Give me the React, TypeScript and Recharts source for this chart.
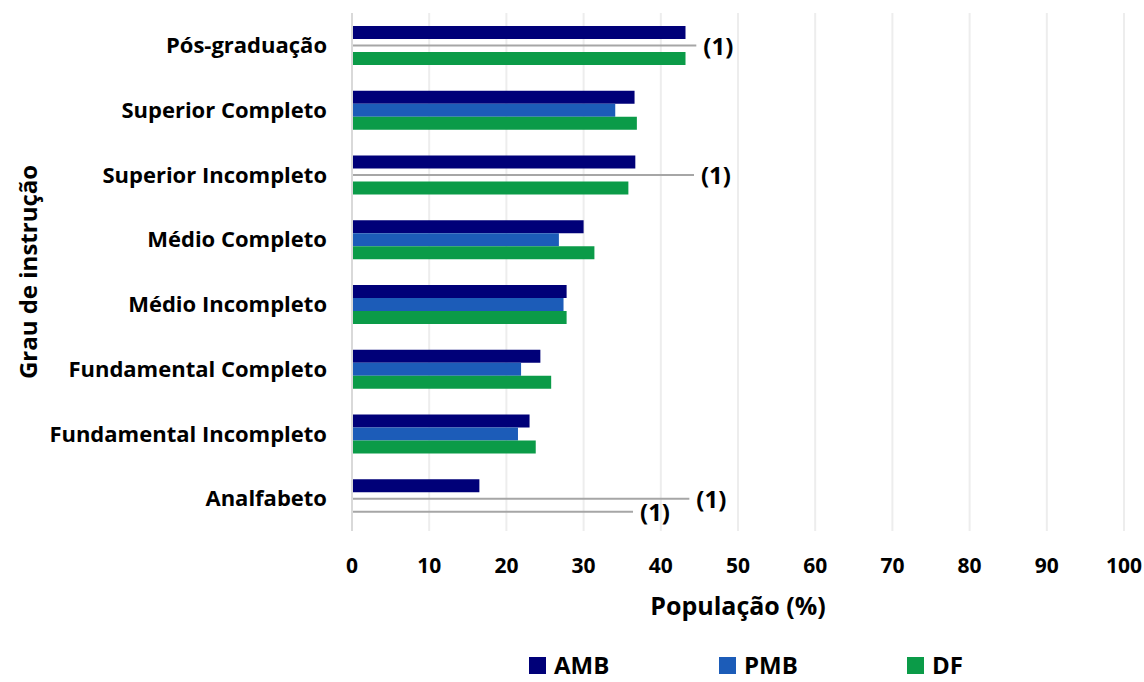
import React from 'react';
import { BarChart, Bar, XAxis, YAxis, CartesianGrid, Legend } from 'recharts';

// Grau de instrução x população (%) por região
const categories = [
  'Pós-graduação',
  'Superior Completo',
  'Superior Incompleto',
  'Médio Completo',
  'Médio Incompleto',
  'Fundamental Completo',
  'Fundamental Incompleto',
  'Analfabeto',
];
const ambValues = [43.2, 36.6, 36.7, 30.0, 27.8, 24.4, 23.0, 16.5];
const pmbValues = [null, 34.1, null, 26.8, 27.4, 21.9, 21.5, null];
const dfValues = [43.2, 36.9, 35.8, 31.4, 27.8, 25.8, 23.8, null];

// linhas de nota "(1)" onde não há dado
const pmbNoteLines = [44.6, null, 44.3, null, null, null, null, 43.7];
const dfNoteLines = [null, null, null, null, null, null, null, 36.4];
const noteLabel = '(1)';

const xTicks = [0, 10, 20, 30, 40, 50, 60, 70, 80, 90, 100];

const series = [
  { key: 'AMB', color: '#000078', itemWidth: 190 },
  { key: 'PMB', color: '#1C5CB8', itemWidth: 188 },
  { key: 'DF', color: '#0B9B48', itemWidth: 60 },
];

const FONT = '"Open Sans", sans-serif';

const data = categories.map((name, i) => ({
  name,
  AMB: ambValues[i],
  PMB: pmbValues[i],
  DF: dfValues[i],
  pmbNote: pmbNoteLines[i],
  dfNote: dfNoteLines[i],
}));

const NoteShape = (props: any) => {
  const { x, y, width, height } = props;
  if (!width || width <= 0) return null;
  const cy = y + height / 2;
  return (
    <g>
      <line x1={x} y1={cy} x2={x + width} y2={cy} stroke="#A6A6A6" strokeWidth={2} />
      <text
        x={x + width + 7}
        y={cy + 3}
        dominantBaseline="middle"
        fontFamily={FONT}
        fontWeight="bold"
        fontSize={24}
        fill="#000"
      >
        {noteLabel}
      </text>
    </g>
  );
};

const renderLegend = () => (
  <div style={{ display: 'flex', fontFamily: FONT, fontWeight: 'bold', fontSize: 24, lineHeight: '22px' }}>
    {series.map((s) => (
      <div key={s.key} style={{ display: 'flex', alignItems: 'center', width: s.itemWidth }}>
        <span style={{ width: 17, height: 17, background: s.color, display: 'inline-block', marginRight: 8 }} />
        <span style={{ color: '#000' }}>{s.key}</span>
      </div>
    ))}
  </div>
);

export default function App() {
  return (
    <div style={{ position: 'absolute', left: 0, top: 0, background: '#fff' }}>
      <BarChart
        width={1144}
        height={682}
        data={data}
        layout="vertical"
        margin={{ top: 13, right: 20, bottom: 0, left: 0 }}
        barSize={13}
        barGap={0}
      >
        <CartesianGrid horizontal={false} stroke="#EDEDED" strokeWidth={2} />
        <XAxis
          type="number"
          domain={[0, 100]}
          ticks={xTicks}
          axisLine={false}
          tickLine={false}
          tickSize={0}
          tickMargin={27}
          height={151}
          tick={{ fontFamily: FONT, fontWeight: 'bold', fontSize: 21, fill: '#000' }}
          label={{
            value: 'População (%)',
            position: 'insideBottom',
            offset: 67,
            style: { fontFamily: FONT, fontWeight: 'bold', fontSize: 25, fill: '#000' },
          }}
        />
        <YAxis
          type="category"
          dataKey="name"
          width={352}
          axisLine={{ stroke: '#D9D9D9', strokeWidth: 2 }}
          tickLine={false}
          tickSize={0}
          tickMargin={25}
          tick={{ fontFamily: FONT, fontWeight: 'bold', fontSize: 22, fill: '#000' }}
          label={{
            value: 'Grau de instrução',
            angle: -90,
            position: 'insideLeft',
            offset: 28,
            style: { textAnchor: 'middle', fontFamily: FONT, fontWeight: 'bold', fontSize: 24, fill: '#000' },
          }}
        />
        <Bar dataKey="AMB" stackId="amb" fill="#000078" isAnimationActive={false} />
        <Bar dataKey="PMB" stackId="pmb" fill="#1C5CB8" isAnimationActive={false} />
        <Bar dataKey="pmbNote" stackId="pmb" shape={NoteShape} legendType="none" isAnimationActive={false} />
        <Bar dataKey="DF" stackId="df" fill="#0B9B48" isAnimationActive={false} />
        <Bar dataKey="dfNote" stackId="df" shape={NoteShape} legendType="none" isAnimationActive={false} />
        <Legend
          verticalAlign="middle"
          content={renderLegend}
          wrapperStyle={{ position: 'absolute', top: 654, left: 529, width: 'auto' }}
        />
      </BarChart>
    </div>
  );
}
